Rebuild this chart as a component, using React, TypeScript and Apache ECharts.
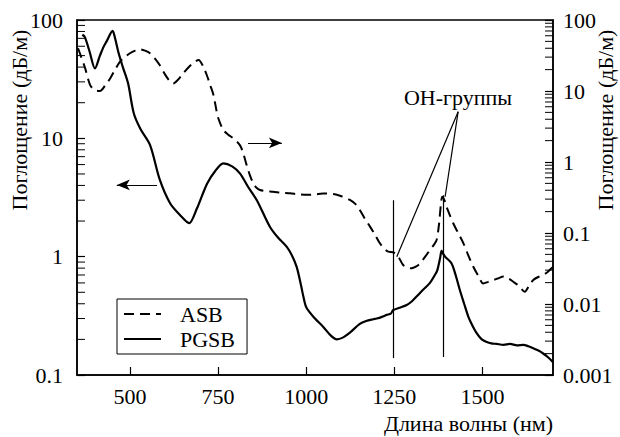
import React, { useEffect, useRef } from "react";
import * as echarts from "echarts";

// ---- data ----
const pgsbWavelength = [365, 372, 385, 401, 415, 425, 434, 451, 458, 467, 480, 495, 511, 530, 557, 585, 614, 642, 668, 690, 705, 720, 740, 765, 790, 812, 835, 860, 897, 920, 945, 960, 973, 985, 992, 1001, 1025, 1048, 1070, 1087, 1105, 1124, 1152, 1170, 1190, 1200, 1215, 1228, 1240, 1247, 1265, 1285, 1300, 1313, 1330, 1351, 1365, 1372, 1380, 1384, 1389, 1394, 1412, 1425, 1436, 1448, 1460, 1472, 1484, 1498, 1512, 1525, 1540, 1560, 1578, 1598, 1616, 1630, 1644, 1660, 1672, 1685, 1696, 1700];
const pgsbAbsorption = [75, 72, 55, 39, 50, 59, 66, 81, 70, 54, 40, 29, 16.3, 12, 8.8, 4.45, 2.83, 2.25, 1.92, 2.55, 3.3, 4.2, 5.2, 6.15, 5.8, 5.06, 3.9, 3.0, 1.79, 1.45, 1.21, 1.02, 0.82, 0.58, 0.46, 0.37, 0.3, 0.256, 0.215, 0.2, 0.208, 0.228, 0.27, 0.286, 0.296, 0.3, 0.31, 0.322, 0.33, 0.354, 0.37, 0.39, 0.42, 0.46, 0.52, 0.6, 0.7, 0.77, 0.98, 1.12, 1.05, 1.0, 0.88, 0.68, 0.52, 0.4, 0.31, 0.26, 0.225, 0.2, 0.19, 0.185, 0.183, 0.18, 0.183, 0.178, 0.18, 0.175, 0.168, 0.16, 0.152, 0.142, 0.132, 0.128];

const asbWavelength = [353, 362, 373, 387, 400, 415, 430, 444, 458, 472, 486, 500, 515, 529, 543, 557, 570, 585, 600, 612, 623, 637, 651, 668, 685, 695, 708, 718, 728, 737, 745, 751, 765, 780, 793, 812, 822, 831, 840, 850, 860, 869, 885, 906, 930, 954, 980, 1001, 1025, 1048, 1077, 1100, 1124, 1140, 1152, 1166, 1181, 1195, 1209, 1222, 1233, 1246, 1255, 1262, 1275, 1288, 1299, 1311, 1323, 1337, 1351, 1362, 1370, 1377, 1382, 1386, 1392, 1398, 1407, 1417, 1431, 1446, 1460, 1474, 1488, 1502, 1516, 1531, 1545, 1559, 1573, 1587, 1603, 1620, 1632, 1644, 1658, 1672, 1684, 1696, 1700];
const asbAbsorption = [40, 30, 21, 12.2, 10.3, 10, 12, 15, 20, 26, 30, 34, 37, 38.6, 37, 34, 29, 23, 17, 14, 12.8, 14.5, 17.7, 22, 26, 27.4, 22, 16.8, 12, 8.8, 5.5, 4.1, 2.83, 2.4, 2.16, 1.73, 1.3, 0.91, 0.66, 0.5, 0.43, 0.404, 0.39, 0.382, 0.37, 0.362, 0.35, 0.345, 0.35, 0.36, 0.355, 0.33, 0.292, 0.255, 0.211, 0.16, 0.123, 0.095, 0.0716, 0.06, 0.0546, 0.0535, 0.05, 0.046, 0.0354, 0.0325, 0.0318, 0.0335, 0.0374, 0.046, 0.0577, 0.068, 0.08, 0.137, 0.25, 0.324, 0.29, 0.234, 0.18, 0.137, 0.1, 0.0716, 0.048, 0.0335, 0.025, 0.0195, 0.0205, 0.0218, 0.023, 0.0243, 0.023, 0.0206, 0.018, 0.0149, 0.018, 0.0218, 0.024, 0.0256, 0.028, 0.0318, 0.033];

const xTickValues = [500, 750, 1000, 1250, 1500];
const xMin = 350;
const xMax = 1700;
const leftDecades = [0.1, 1, 10];
const rightDecades = [0.001, 0.01, 0.1, 1, 10];
const minorMultipliers = [2, 3, 4, 5, 6, 7, 8, 9];

const yTitle = "Поглощение (дБ/м)";
const xTitle = "Длина волны (нм)";
const ohLabel = "OH-группы";

// OH-group markers (wavelength, value on left axis)
const ohLine1 = [[1247, 3.0], [1247, 0.139]];
const ohLine2 = [[1389, 3.3], [1389, 0.142]];
const pointer1 = [[1431, 16.8], [1257, 1.0]];
const pointer2 = [[1431, 16.8], [1394, 3.21]];
const arrowLeft = [[577, 4.04], [463, 4.04]];
const arrowRight = [[835, 9.14], [931, 9.14]];

const FONT = "'Liberation Serif', 'Times New Roman', serif";
const FS = 22;

export default function App() {
  const ref = useRef<HTMLDivElement>(null);
  useEffect(() => {
    if (!ref.current) return;
    const chart = echarts.init(ref.current, undefined, { renderer: "svg" });
    const pgsb = pgsbWavelength.map((w, i) => [w, pgsbAbsorption[i]]);
    const asb = asbWavelength.map((w, i) => [w, asbAbsorption[i]]);
    const leftMinor: number[][] = [];
    leftDecades.forEach((d) => minorMultipliers.forEach((m) => leftMinor.push([xMin, d * m])));
    const rightMinor: number[][] = [];
    rightDecades.forEach((d) => minorMultipliers.forEach((m) => rightMinor.push([xMax, d * m])));

    const seg = (pts: number[][], endSymbol = "none") => [
      { coord: pts[0], symbol: "none" },
      { coord: pts[1], symbol: endSymbol, symbolSize: [8, 13] },
    ];

    const tickSeries = (data: number[][], yIdx: number, dir: number) => ({
      type: "custom",
      yAxisIndex: yIdx,
      silent: true,
      clip: false,
      data,
      renderItem: (_p: any, api: any) => {
        const p = api.coord([api.value(0), api.value(1)]);
        return {
          type: "line",
          shape: { x1: p[0], y1: p[1], x2: p[0] + dir * 8, y2: p[1] },
          style: { stroke: "#000", lineWidth: 1 },
        };
      },
    });

    const labelStyle = { fontFamily: FONT, fontSize: FS, color: "#000" };
    const gFont = FS + "px " + FONT;

    chart.setOption({
      animation: false,
      backgroundColor: "#fff",
      textStyle: { fontFamily: FONT, color: "#000" },
      grid: { left: 77, right: 67, top: 20, bottom: 62, show: true, borderColor: "#000", borderWidth: 1.5, containLabel: false },
      legend: {
        data: ["ASB", "PGSB"],
        orient: "vertical",
        left: 117,
        top: 299,
        padding: [4, 12, 4, 6],
        itemGap: 3,
        itemWidth: 37,
        itemHeight: 14,
        borderColor: "#000",
        borderWidth: 1,
        backgroundColor: "#fff",
        selectedMode: false,
        itemStyle: { color: "transparent", borderColor: "transparent", borderWidth: 0 },
        textStyle: { ...labelStyle, padding: [0, 0, 0, 14] },
      },
      xAxis: {
        type: "value",
        min: xMin,
        max: xMax,
        axisLine: { lineStyle: { color: "#000", width: 1.5 } },
        axisTick: { inside: true, length: 8, customValues: xTickValues, lineStyle: { color: "#000", width: 1.2 } },
        axisLabel: { ...labelStyle, customValues: xTickValues, margin: 10, formatter: (v: number) => String(v) },
        splitLine: { show: false },
      },
      yAxis: [
        {
          type: "log",
          logBase: 10,
          min: 0.1,
          max: 100,
          position: "left",
          axisLine: { show: true, lineStyle: { color: "#000", width: 1.5 } },
          axisTick: { inside: true, length: 8, lineStyle: { color: "#000", width: 1.2 } },
          axisLabel: { ...labelStyle, margin: 14, formatter: (v: number) => String(v) },
          splitLine: { show: false },
        },
        {
          type: "log",
          logBase: 10,
          min: 0.001,
          max: 100,
          position: "right",
          axisLine: { show: true, lineStyle: { color: "#000", width: 1.5 } },
          axisTick: { inside: true, length: 8, lineStyle: { color: "#000", width: 1.2 } },
          axisLabel: { ...labelStyle, margin: 10, formatter: (v: number) => String(v) },
          splitLine: { show: false },
        },
      ],
      graphic: [
        {
          type: "text",
          x: 458,
          y: 97,
          style: { text: ohLabel, font: gFont, fill: "#000", align: "center", verticalAlign: "middle" },
        },
        {
          type: "text",
          x: 19,
          y: 120,
          rotation: Math.PI / 2,
          style: { text: yTitle, font: gFont, fill: "#000", align: "center", verticalAlign: "middle" },
        },
        {
          type: "text",
          x: 605,
          y: 120,
          rotation: Math.PI / 2,
          style: { text: yTitle, font: gFont, fill: "#000", align: "center", verticalAlign: "middle" },
        },
        {
          type: "text",
          x: 553,
          y: 423,
          style: { text: xTitle, font: gFont, fill: "#000", align: "right", verticalAlign: "middle" },
        },
      ],
      series: [
        {
          name: "ASB",
          type: "line",
          yAxisIndex: 1,
          data: asb,
          symbol: "none",
          smooth: 0.3,
          lineStyle: { color: "#000", width: 2, type: [10, 6] },
          itemStyle: { color: "#000" },
          z: 3,
        },
        {
          name: "PGSB",
          type: "line",
          yAxisIndex: 0,
          data: pgsb,
          symbol: "none",
          smooth: 0.3,
          lineStyle: { color: "#000", width: 2.2 },
          itemStyle: { color: "#000" },
          z: 3,
          markLine: {
            silent: true,
            animation: false,
            symbol: ["none", "none"],
            label: { show: false },
            emphasis: { disabled: true },
            lineStyle: { color: "#000", width: 1.2, type: "solid" },
            data: [
              seg(ohLine1),
              seg(ohLine2),
              seg(pointer1),
              seg(pointer2),
              seg(arrowLeft, "arrow"),
              seg(arrowRight, "arrow"),
            ],
          },
        },
        tickSeries(leftMinor, 0, 1),
        tickSeries(rightMinor, 1, -1),
      ],
    });
    return () => chart.dispose();
  }, []);
  return <div ref={ref} style={{ width: 620, height: 437, position: "absolute", left: 0, top: 0 }} />;
}
